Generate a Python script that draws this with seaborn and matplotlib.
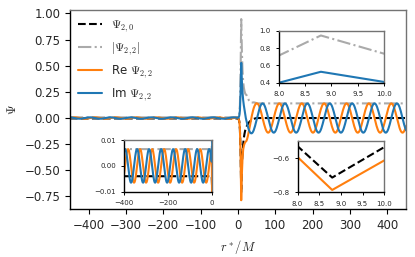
import numpy as np
import pandas as pd
import seaborn as sns
import matplotlib
matplotlib.use("Agg")
import matplotlib.pyplot as plt

sns.set_style("ticks")
plt.rcParams["font.family"] = ["DejaVu Sans"]
plt.rcParams["mathtext.fontset"] = "cm"

# ---- data ----
r_step = 1.76                      # grid spacing in r*/M
n_side = 256                       # points on each side of r* = 0

# r* <= 0 : small wave, blue troughs at -369 + k*55
amp_in = 0.0065
period_in = 55.0
im_trough_in = -369.0
psi20_in = -0.004

# r* > 50 : steady wave, orange crests at 51 + k*60
amp_out = 0.14
period_out = 60.0
re_crest_out = 51.0
psi20_out = 0.0

# samples around the peak, grid points k = 1 .. 28  (r* = 1.76 .. 49.28)
peak_re = [-0.01, -0.03, -0.10, -0.359, -0.786, -0.531, -0.38, -0.30, -0.265,
           -0.245, -0.232, -0.225, -0.218, -0.200, -0.176, -0.147, -0.115,
           -0.081, -0.048, -0.015, 0.017, 0.046, 0.072, 0.094, 0.112, 0.125,
           0.136, 0.141]
peak_im = [0.005, 0.02, 0.07, 0.248, 0.527, 0.355, 0.24, 0.17, 0.12, 0.08,
           0.04, 0.0, -0.029, -0.054, -0.078, -0.100, -0.118, -0.132,
           -0.142, -0.146, -0.146, -0.141, -0.131, -0.117, -0.098, -0.077,
           -0.052, -0.026]
peak_psi20 = [-0.008, -0.03, -0.11, -0.306, -0.713, -0.450, -0.33, -0.25,
              -0.19, -0.15, -0.12, -0.10, -0.085, -0.07, -0.058, -0.048,
              -0.04, -0.033, -0.027, -0.022, -0.018, -0.014, -0.011, -0.008,
              -0.006, -0.004, -0.002, -0.001]

# ---- build the curves ----
k = np.arange(-n_side, n_side + 1)
r = r_step * k
n_peak = len(peak_re)

th_in = 2 * np.pi * (r - im_trough_in) / period_in
ph_out = 2 * np.pi * (r - re_crest_out) / period_out

re22 = np.where(k <= 0, -amp_in * np.sin(th_in), amp_out * np.cos(ph_out))
im22 = np.where(k <= 0, -amp_in * np.cos(th_in), amp_out * np.sin(ph_out))
psi20 = np.where(k <= 0, psi20_in, psi20_out)

sel = (k >= 1) & (k <= n_peak)
re22[sel] = peak_re
im22[sel] = peak_im
psi20[sel] = peak_psi20

df = pd.DataFrame({"r": r, "psi20": psi20, "re22": re22, "im22": im22})
df["abs22"] = np.abs(df["re22"] + 1j * df["im22"])

blue = "#1f77b4"
orange = "#ff7f0e"
gray = "#aaaaaa"


def draw(ax, labels=False):
    lab = (lambda s: s) if labels else (lambda s: None)
    sns.lineplot(data=df, x="r", y="psi20", ax=ax, color="k", linestyle="--",
                 lw=1.5, estimator=None, label=lab(r"$\Psi_{2,0}$"))
    sns.lineplot(data=df, x="r", y="abs22", ax=ax, color=gray, linestyle="-.",
                 lw=1.5, estimator=None, label=lab(r"$|\Psi_{2,2}|$"))
    sns.lineplot(data=df, x="r", y="re22", ax=ax, color=orange, lw=1.5,
                 estimator=None, label=lab(r"Re $\Psi_{2,2}$"))
    sns.lineplot(data=df, x="r", y="im22", ax=ax, color=blue, lw=1.5,
                 estimator=None, label=lab(r"Im $\Psi_{2,2}$"))
    ax.set_xlabel("")
    ax.set_ylabel("")


def frame(ax, size):
    ax.spines["left"].set_color("k")
    ax.spines["bottom"].set_color("k")
    ax.spines["top"].set_color("0.45")
    ax.spines["right"].set_color("0.45")
    for s in ax.spines.values():
        s.set_linewidth(1.0)
    ax.tick_params(labelsize=size, direction="out", top=False, right=False,
                   color="k")


fig = plt.figure(figsize=(4.15, 2.57), dpi=100)
ax = fig.add_axes([0.1687, 0.1856, 0.8093, 0.7755])
draw(ax, labels=True)
ax.set_xlim(-450, 450)
ax.set_xticks(np.arange(-400, 401, 100))
ax.set_yticks([-0.75, -0.5, -0.25, 0.0, 0.25, 0.5, 0.75, 1.0])
ax.set_xlabel(r"$r^*/M$", fontsize=9)
ax.set_ylabel(r"$\Psi$", fontsize=9)
frame(ax, 8.5)
ax.tick_params(length=3.5, width=0.8)
ax.legend(loc="upper left", frameon=False, fontsize=8.5, labelspacing=0.55,
          borderaxespad=0.3, handlelength=2.0)

# upper right inset: peak of |Psi22| and Im
ins1 = fig.add_axes([0.672, 0.678, 0.253, 0.202])
draw(ins1)
ins1.set_xlim(8, 10)
ins1.set_ylim(0.4, 1.0)
ins1.set_xticks([8.0, 8.5, 9.0, 9.5, 10.0])
ins1.set_yticks([0.4, 0.6, 0.8, 1.0])
frame(ins1, 5)
ins1.tick_params(length=2.5, width=0.7)

# lower left inset: small wave at negative r*
ins2 = fig.add_axes([0.2995, 0.254, 0.2106, 0.201])
draw(ins2)
ins2.set_xlim(-400, 0)
ins2.set_ylim(-0.01, 0.01)
ins2.set_xticks([-400, -200, 0])
ins2.set_yticks([-0.01, 0.0, 0.01])
frame(ins2, 5)
ins2.tick_params(length=2.5, width=0.7)

# lower right inset: dip of Psi20 and Re
ins3 = fig.add_axes([0.717, 0.2516, 0.2087, 0.198])
draw(ins3)
ins3.set_xlim(8, 10)
ins3.set_ylim(-0.8, -0.5)
ins3.set_xticks([8.0, 8.5, 9.0, 9.5, 10.0])
ins3.set_yticks([-0.8, -0.6])
frame(ins3, 5)
ins3.tick_params(length=2.5, width=0.7)

fig.savefig("out.png", dpi=100)
